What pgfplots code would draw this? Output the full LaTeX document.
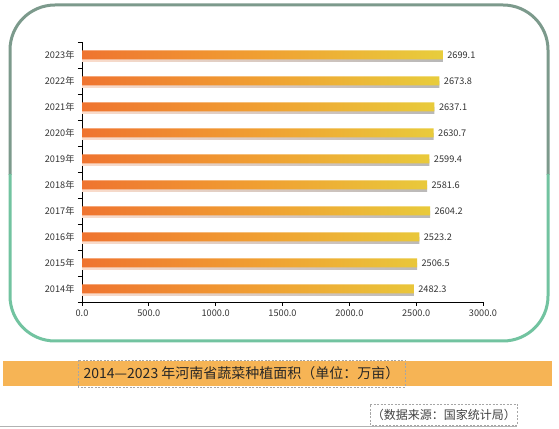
\documentclass[border=0pt]{standalone}
\usepackage{pgfplots}
\usepackage{pgfplotstable}
\pgfplotsset{compat=1.18}
\usepackage{fontspec}
\setmainfont{Noto Sans CJK SC}

\definecolor{frametop}{HTML}{7C9A8C}
\definecolor{framebot}{HTML}{72C3A0}
\definecolor{barorange}{HTML}{EF7430}
\definecolor{barmid}{HTML}{F0A032}
\definecolor{baryellow}{HTML}{E8CD3C}
\definecolor{band}{HTML}{F6B455}
\definecolor{txt}{HTML}{333333}

\pgfplotstableread{
year area
2014 2482.3
2015 2506.5
2016 2523.2
2017 2604.2
2018 2581.6
2019 2599.4
2020 2630.7
2021 2637.1
2022 2673.8
2023 2699.1
}\areadata

\begin{document}
\begin{tikzpicture}[x=1pt,y=1pt]
\useasboundingbox (0,0) rectangle (559,428);
% frame: grey-green on top, mint green below
\begin{scope}
  \clip (0,253) rectangle (559,428);
  \draw[frametop, line width=3pt, rounded corners=45pt] (10,87) rectangle (548,423);
\end{scope}
\begin{scope}
  \clip (0,0) rectangle (559,253);
  \draw[framebot, line width=3pt, rounded corners=45pt] (10,87) rectangle (548,423);
\end{scope}

\begin{axis}[
    at={(82pt,126pt)}, anchor=south west,
    scale only axis, width=401pt, height=260pt,
    xmin=0, xmax=3000, ymin=2013.5, ymax=2023.5,
    axis x line*=bottom, axis y line*=left,
    axis line style={black, line width=0.9pt},
    xtick={0,500,...,3000},
    ytick={2014,...,2023},
    yticklabels={2014年,2015年,2016年,2017年,2018年,2019年,2020年,2021年,2022年,2023年},
    minor ytick={2013.5,2014.5,...,2023.5},
    major y tick style={draw=none},
    minor y tick style={black, line width=0.9pt},
    major x tick style={black, line width=0.9pt},
    tick align=outside, major tick length=4pt, minor tick length=4pt,
    xticklabel style={/pgf/number format/.cd, fixed, fixed zerofill, precision=1, 1000 sep={}},
    /pgf/number format/assume math mode=true,
    tick label style={font=\fontsize{9.2}{10}\selectfont, text=txt},
    clip=false,
]
% soft shadow under each bar
\addplot[xbar, bar width=7pt, bar shift=-3.5pt, draw=none,
    left color=barorange!25, right color=black!28]
    table[x=area, y=year] {\areadata};
% gradient bars
\addplot[xbar, bar width=9pt, bar shift=0pt, draw=none,
    left color=barorange, right color=baryellow, middle color=barmid,
    nodes near coords,
    nodes near coords style={font=\fontsize{9.2}{10}\selectfont, text=txt, anchor=west, xshift=1pt,
      /pgf/number format/.cd, fixed, fixed zerofill, precision=1, 1000 sep={}}]
    table[x=area, y=year] {\areadata};
\end{axis}

% title band
\fill[band] (3,42) rectangle (552,67);
\draw[gray!70, dashed, dash pattern=on 2pt off 1.5pt, line width=0.5pt] (78,41) rectangle (405,68);
\node[text=black!85, font=\fontsize{14}{16}\selectfont] at (241.5,54.5) {2014—2023 年河南省蔬菜种植面积（单位：万亩）};
% source
\draw[gray!70, dashed, dash pattern=on 2pt off 1.5pt, line width=0.5pt] (370,3) rectangle (517,24);
\node[text=black!75, font=\fontsize{12}{14}\selectfont, anchor=east, inner sep=1pt] at (517,13.5) {（数据来源：国家统计局）};
\draw[gray!60, line width=1.5pt] (0,1.5) -- (517,1.5);
\end{tikzpicture}
\end{document}
